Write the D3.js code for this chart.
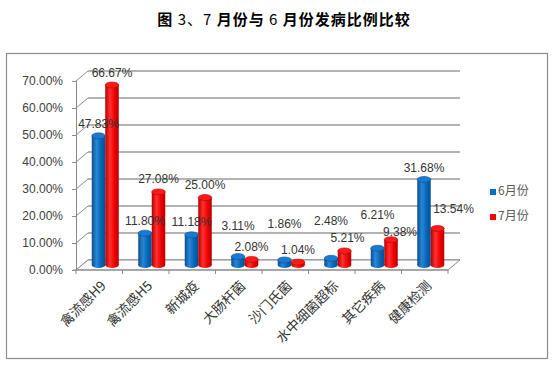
<!DOCTYPE html>
<html>
<head>
<meta charset="utf-8">
<script src="https://cdn.jsdelivr.net/npm/d3@7"></script>
<style>
  body { margin: 0; background: #fff; }
  svg { display: block; }
</style>
</head>
<body>
<div id="chart"></div>
<script>
// data
const categories = ["禽流感H9", "禽流感H5", "新城疫", "大肠杆菌", "沙门氏菌", "水中细菌超标", "其它疾病", "健康检测"];
const june = [0.4783, 0.1180, 0.1118, 0.0311, 0.0186, 0.0248, 0.0621, 0.3168];
const july = [0.6667, 0.2708, 0.2500, 0.0208, 0.0104, 0.0521, 0.0938, 0.1354];
const seriesNames = ["6月份", "7月份"];
const yTicks = [0, 0.1, 0.2, 0.3, 0.4, 0.5, 0.6, 0.7];

// label placement (px above the bar top / sideways nudge), as in the original
const juneLift = [11, 11, 12, 30, 35, 36, 32, 11];
const julyLift = [11, 12, 12, 12, 11, 12, 7, 19];
const julyNudge = [0, 0, 0, 0, 0, 3, 9, 16];

const W = 560, H = 373;
const depthX = 12, depthY = -10; // 3d offset of the back wall

const svg = d3.select("#chart")
    .append("svg")
    .attr("width", W)
    .attr("height", H);

const defs = svg.append("defs");

// cylinder shading
function cylGrad(id, dark, mid, light) {
    const g = defs.append("linearGradient").attr("id", id)
        .attr("x1", "0%").attr("x2", "100%").attr("y1", "0%").attr("y2", "0%");
    g.append("stop").attr("offset", "0%").attr("stop-color", dark);
    g.append("stop").attr("offset", "35%").attr("stop-color", light);
    g.append("stop").attr("offset", "70%").attr("stop-color", mid);
    g.append("stop").attr("offset", "100%").attr("stop-color", dark);
}
cylGrad("gBlue", "#0a4f8f", "#0066b8", "#2a86d6");
cylGrad("gRed", "#b30000", "#f00000", "#ff3030");
const colors = [
    {side: "url(#gBlue)", top: "#1a7ad0", stroke: "#0a4f8f", key: "#0070c0"},
    {side: "url(#gRed)", top: "#ff1a1a", stroke: "#b30000", key: "#ff0000"}
];

// outer frame
svg.append("rect")
    .attr("x", 6.5).attr("y", 53.5)
    .attr("width", 541).attr("height", 305)
    .attr("fill", "none")
    .attr("stroke", "#8c8c8c")
    .attr("stroke-width", 1.2);

// title: bold CJK, plain digits
const title = svg.append("text")
    .attr("x", 284).attr("y", 25)
    .attr("text-anchor", "middle")
    .attr("font-family", "'Noto Sans CJK SC', sans-serif")
    .attr("font-size", 15)
    .attr("letter-spacing", 1)
    .attr("fill", "#000");
[["图 ", "bold"], ["3、7 ", "normal"], ["月份与 ", "bold"], ["6 ", "normal"], ["月份发病比例比较", "bold"]]
    .forEach(p => title.append("tspan").attr("font-weight", p[1]).text(p[0]));

const x = d3.scaleBand()
    .domain(categories)
    .range([76, 448]);

const y = d3.scaleLinear()
    .domain([0, 0.7])
    .range([270, 81]);

const axisColor = "#8a8a8a";

// back wall gridlines
svg.append("g").selectAll("line")
    .data(yTicks)
    .join("line")
    .attr("x1", 76 + depthX).attr("x2", 448 + depthX)
    .attr("y1", d => y(d) + depthY).attr("y2", d => y(d) + depthY)
    .attr("stroke", "#9a9a9a")
    .attr("stroke-width", 1.5);

// side diagonals from front axis to the back wall
svg.append("g").selectAll("line")
    .data(yTicks)
    .join("line")
    .attr("x1", 76).attr("x2", 76 + depthX)
    .attr("y1", d => y(d)).attr("y2", d => y(d) + depthY)
    .attr("stroke", axisColor)
    .attr("stroke-width", 1);

// floor
svg.append("path")
    .attr("d", `M76,${y(0)} L448,${y(0)} L${448 + depthX},${y(0) + depthY} L${76 + depthX},${y(0) + depthY} Z`)
    .attr("fill", "#fafafa")
    .attr("stroke", axisColor)
    .attr("stroke-width", 1);

// y axis
const yAxis = svg.append("g")
    .attr("transform", "translate(76,0)")
    .call(d3.axisLeft(y).tickValues(yTicks).tickSize(4).tickFormat(d3.format(".2%")));
yAxis.select(".domain").attr("stroke", axisColor);
yAxis.selectAll(".tick line").attr("stroke", axisColor);
yAxis.selectAll("text")
    .attr("font-family", "'Liberation Sans', Arial, sans-serif")
    .attr("font-size", 12)
    .attr("fill", "#404040")
    .attr("dx", -6);

// x axis (ticks between categories)
const xAxis = svg.append("g")
    .attr("transform", `translate(0,${y(0)})`);
xAxis.append("line")
    .attr("x1", 73).attr("x2", 448)
    .attr("stroke", axisColor);
xAxis.selectAll(".tk")
    .data(categories.concat([null]))
    .join("line")
    .attr("class", "tk")
    .attr("x1", (d, i) => 76 + i * x.step())
    .attr("x2", (d, i) => 76 + i * x.step())
    .attr("y1", 0).attr("y2", 4)
    .attr("stroke", axisColor);

xAxis.selectAll("text")
    .data(categories)
    .join("text")
    .attr("transform", d => `translate(${x(d) + x.bandwidth() / 2 + 5},${14}) rotate(-45)`)
    .attr("text-anchor", "end")
    .attr("dominant-baseline", "middle")
    .attr("font-family", "'Noto Sans CJK SC', sans-serif")
    .attr("font-size", 13.5)
    .attr("fill", "#333")
    .text(d => d);

// cylinders
const barW = 13.5, ry = 3;
const midX = depthX / 2, midY = depthY / 2;
const rows = [];
categories.forEach((c, i) => {
    rows.push({cat: c, s: 0, v: june[i], lift: juneLift[i], nudge: 0});
    rows.push({cat: c, s: 1, v: july[i], lift: julyLift[i], nudge: julyNudge[i]});
});

const bars = svg.append("g").selectAll("g")
    .data(rows)
    .join("g");

const bx = d => x(d.cat) + x.bandwidth() / 2 + midX + (d.s === 0 ? -barW : 0);
const base = y(0) + midY;
const topY = d => y(d.v) + midY;

bars.append("ellipse")
    .attr("cx", d => bx(d) + barW / 2)
    .attr("cy", base)
    .attr("rx", barW / 2).attr("ry", ry)
    .attr("fill", d => colors[d.s].side);
bars.append("rect")
    .attr("x", bx)
    .attr("y", topY)
    .attr("width", barW)
    .attr("height", d => base - topY(d))
    .attr("fill", d => colors[d.s].side);
bars.append("ellipse")
    .attr("cx", d => bx(d) + barW / 2)
    .attr("cy", topY)
    .attr("rx", barW / 2).attr("ry", ry)
    .attr("fill", d => colors[d.s].top)
    .attr("stroke", d => colors[d.s].stroke)
    .attr("stroke-width", 0.6);

// data labels
svg.append("g").selectAll("text")
    .data(rows)
    .join("text")
    .attr("x", d => bx(d) + barW / 2 + d.nudge)
    .attr("y", d => topY(d) - d.lift)
    .attr("text-anchor", "middle")
    .attr("dominant-baseline", "middle")
    .attr("font-family", "'Liberation Sans', Arial, sans-serif")
    .attr("font-size", 12)
    .attr("fill", "#333")
    .text(d => d3.format(".2%")(d.v));

// legend
const legend = svg.append("g")
    .selectAll("g")
    .data(seriesNames)
    .join("g")
    .attr("transform", (d, i) => `translate(490,${192 + i * 25})`);
legend.append("rect")
    .attr("x", 0).attr("y", -3)
    .attr("width", 6).attr("height", 6)
    .attr("fill", (d, i) => colors[i].key);
legend.append("text")
    .attr("x", 8).attr("y", 0)
    .attr("dominant-baseline", "middle")
    .attr("font-family", "'Noto Sans CJK SC', sans-serif")
    .attr("font-size", 12)
    .attr("fill", "#595959")
    .text(d => d);
</script>
</body>
</html>
